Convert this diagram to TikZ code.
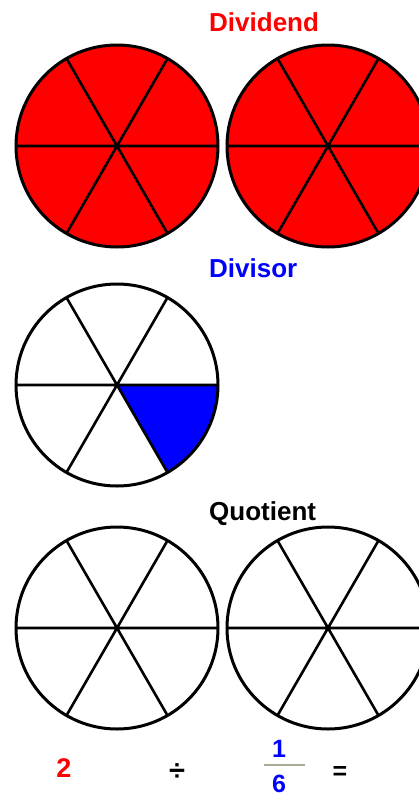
\documentclass[tikz,border=0pt]{standalone}
\usepackage{fontspec}
\setmainfont{Liberation Sans}
\newcommand{\pie}[1]{%
	\begin{scope}[shift={#1}]
		\draw[spoke] (0:101) -- (180:101) (60:101) -- (240:101) (120:101) -- (300:101);
		\draw[rim] (0,0) circle[radius=101];
	\end{scope}}

\begin{document}
\begin{tikzpicture}[x=1pt, y=-1pt,
		rim/.style={line width=3pt},
		spoke/.style={line width=2.6pt},
		lbl/.style={font=\fontsize{26}{30}\selectfont\bfseries, inner sep=0pt, anchor=base west},
		num/.style={font=\fontsize{25}{30}\selectfont\bfseries, inner sep=0pt}]
			
			\useasboundingbox (0,0) rectangle (419,798);
			\clip (0,0) rectangle (419,798);
			
			% dividend
			\node[lbl, text=red] (dividend) at (209,31) {Dividend};
			\fill[red] (117,146) circle[radius=101];
			\fill[red] (328,146) circle[radius=101];
			\pie{(117,146)}
			\pie{(328,146)}
			
			% divisor
			\node[lbl, text=blue] (divisor) at (209,277) {Divisor};
			\fill[blue] (117,385) -- ++(0:101) arc[start angle=0, end angle=60, radius=101] -- cycle;
			\pie{(117,385)}
			
			% quotient
			\node[lbl] (quotient) at (209,520) {Quotient};
			\pie{(117,628)}
			\pie{(328,628)}
			
			% equation
			\node[num, font=\fontsize{27}{30}\selectfont\bfseries, text=red] (two) at (64,768) {2};
			\node[num, font=\fontsize{29}{30}\selectfont\bfseries, anchor=base] (divides) at (177,780) {÷};
			\node[num, text=blue] (one) at (279,749) {1};
			\node[num, text=blue] (six) at (279,784) {6};
			\coordinate (barl) at (264,765);
			\coordinate (barr) at (305,765);
			\draw[line width=2pt, color={rgb,255:red,170;green,170;blue,150}] (barl) -- (barr);
			\node[num, anchor=base] (equals) at (340,779) {=};
			
		\end{tikzpicture}
\end{document}
